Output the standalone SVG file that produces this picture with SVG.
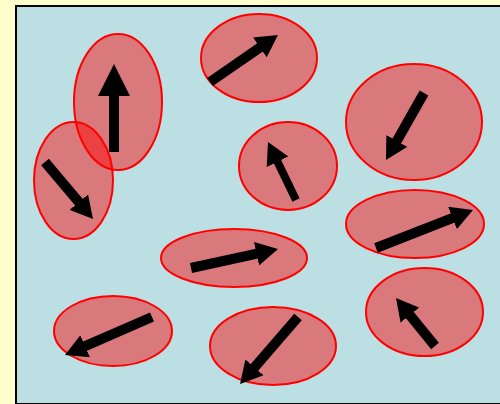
<svg xmlns="http://www.w3.org/2000/svg" width="500" height="404" viewBox="0 0 500 404">
<style>
.cell{fill:#ff0000;fill-opacity:0.46;stroke:#ff0000;stroke-width:2}
.arr{stroke:#000;stroke-width:10;fill:none;marker-end:url(#head)}
</style>
<defs>
<marker id="head" markerUnits="userSpaceOnUse" markerWidth="22" markerHeight="24" viewBox="0 0 22 24" refX="10" refY="12" orient="auto">
<path d="M0,0 L22,12 L0,24 z" fill="#000"/>
</marker>
<marker id="bighead" markerUnits="userSpaceOnUse" markerWidth="32" markerHeight="32" viewBox="0 0 32 32" refX="16" refY="16" orient="auto">
<path d="M0,0 L32,16 L0,32 z" fill="#000"/>
</marker>
</defs>
<rect x="0" y="0" width="500" height="404" fill="#ffffcc"/>
<rect x="16" y="6" width="500" height="398" fill="#bbdfe3" stroke="#000" stroke-width="2"/>
<g id="cell-left">
<ellipse class="cell" cx="73.5" cy="180.5" rx="39.5" ry="58.5"/>
<line class="arr" x1="45" y1="162" x2="85.3" y2="209.8"/>
</g>
<g id="cell-tall">
<ellipse class="cell" cx="118" cy="102" rx="44" ry="68"/>
<line class="arr" x1="114" y1="152" x2="114" y2="80" style="marker-end:url(#bighead)"/>
</g>
<g id="cell-top">
<ellipse class="cell" cx="259" cy="58" rx="58" ry="44"/>
<line class="arr" x1="210" y1="82" x2="268.1" y2="41.8"/>
</g>
<g id="cell-topright">
<ellipse class="cell" cx="414" cy="122" rx="68" ry="58"/>
<line class="arr" x1="424" y1="93" x2="391.9" y2="149.6"/>
</g>
<g id="cell-center-small">
<ellipse class="cell" cx="288" cy="166" rx="49" ry="44"/>
<line class="arr" x1="296" y1="200" x2="273.2" y2="152.8" style="stroke-width:8"/>
</g>
<g id="cell-right">
<ellipse class="cell" cx="415" cy="224" rx="69" ry="34"/>
<line class="arr" x1="376" y1="248" x2="461.8" y2="214.4"/>
</g>
<g id="cell-center">
<ellipse class="cell" cx="234" cy="258" rx="73" ry="29"/>
<line class="arr" x1="191" y1="268" x2="266.3" y2="251.6"/>
</g>
<g id="cell-bottomright">
<ellipse class="cell" cx="424.5" cy="312" rx="58.5" ry="44"/>
<line class="arr" x1="435" y1="346" x2="403.6" y2="307.3"/>
</g>
<g id="cell-bottomleft">
<ellipse class="cell" cx="113" cy="331" rx="59" ry="35"/>
<line class="arr" x1="152" y1="317" x2="76" y2="350.2"/>
</g>
<g id="cell-bottom">
<ellipse class="cell" cx="273" cy="346" rx="63" ry="39"/>
<line class="arr" x1="298" y1="317" x2="247.9" y2="374.9"/>
</g>
</svg>
